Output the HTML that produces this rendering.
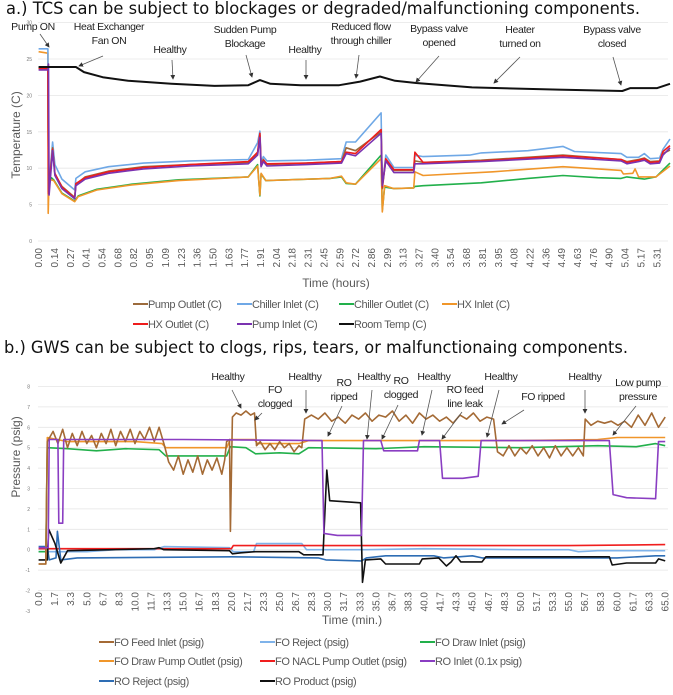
<!DOCTYPE html>
<html><head><meta charset="utf-8">
<style>
html,body{margin:0;padding:0;background:#fff;}
svg{display:block;}
.ann{font-family:"Liberation Sans Narrow","Liberation Sans",sans-serif;font-size:10.5px;letter-spacing:-0.35px;fill:#222;text-anchor:middle;}
.tick{font-family:"Liberation Sans",sans-serif;font-size:10px;fill:#595959;}
.ytick{font-family:"Liberation Sans",sans-serif;font-size:5px;fill:#777;text-anchor:end;}
.leg{font-family:"Liberation Sans Narrow","Liberation Sans",sans-serif;font-size:11px;letter-spacing:-0.4px;fill:#595959;}
.axt{font-family:"Liberation Sans",sans-serif;font-size:12px;fill:#595959;text-anchor:middle;}
.title{font-family:"DejaVu Sans",sans-serif;font-size:17px;fill:#111;}
</style></head>
<body>
<svg id="root" width="673" height="695" viewBox="0 0 673 695" xmlns="http://www.w3.org/2000/svg">
<defs><marker id="ah" markerWidth="6" markerHeight="6" refX="5" refY="3" orient="auto"><path d="M0,0 L6,3 L0,6 z" fill="#333"/></marker></defs>
<text class="title" x="6" y="14" textLength="634" lengthAdjust="spacingAndGlyphs">a.) TCS can be subject to blockages or degraded/malfunctioning components.</text>
<text class="title" x="4" y="353" textLength="624" lengthAdjust="spacingAndGlyphs">b.) GWS can be subject to clogs, rips, tears, or malfunctionaing components.</text>
<g id="gA"></g>
<g id="gB"></g>
</svg>
<script>
// ---------- Chart A data (hours, °C) ----------
const aYTicks=[0,5,10,15,20,25,30];
const aXTicks=["0.00","0.14","0.27","0.41","0.54","0.68","0.82","0.95","1.09","1.23","1.36","1.50","1.63","1.77","1.91","2.04","2.18","2.31","2.45","2.59","2.72","2.86","2.99","3.13","3.27","3.40","3.54","3.68","3.81","3.95","4.08","4.22","4.36","4.49","4.63","4.76","4.90","5.04","5.17","5.31"];
const roomTemp=[[0,23.9],[0.32,23.9],[0.39,23.2],[0.55,22.5],[0.77,22.0],[1.14,21.6],[1.51,21.3],[1.8,21.4],[1.9,22.1],[1.99,21.6],[2.25,21.4],[2.58,21.4],[2.76,21.9],[2.93,22.6],[3.06,22.0],[3.24,21.7],[3.72,21.1],[4.46,20.8],[5.01,20.6],[5.08,21.0],[5.31,21.0],[5.42,21.6]];
const chillerInlet=[[0,26.4],[0.08,26.4],[0.085,7],[0.12,13.6],[0.14,10.5],[0.2,8.5],[0.31,7],[0.32,8.6],[0.4,9.5],[0.6,10.2],[0.9,10.7],[1.3,11],[1.8,11.2],[1.88,13.5],[1.9,15.1],[1.91,10.8],[1.93,11.6],[1.96,11],[2.3,11.1],[2.6,11.3],[2.64,13.6],[2.72,13.6],[2.94,17.6],[2.95,7.5],[2.98,11.8],[3.05,10.1],[3.22,10.1],[3.23,11.8],[3.3,11.6],[3.7,11.8],[3.8,12.1],[4.2,12.4],[4.5,13],[4.6,12.3],[5.0,12],[5.05,11.5],[5.15,11.5],[5.2,12],[5.25,11.3],[5.33,11.4],[5.36,12.6],[5.42,14]];
const pumpOutlet=[[0,23.8],[0.08,23.8],[0.085,6.8],[0.12,12.8],[0.14,9.2],[0.2,7.5],[0.31,6.0],[0.32,7.8],[0.4,8.8],[0.6,9.6],[0.9,10.2],[1.3,10.5],[1.8,10.8],[1.88,12],[1.9,14.5],[1.91,10.5],[1.93,11.2],[1.96,10.5],[2.3,10.7],[2.6,10.9],[2.64,12.8],[2.72,12.4],[2.94,15],[2.95,7.2],[2.98,11.2],[3.05,9.7],[3.22,9.7],[3.23,11],[3.3,10.8],[3.8,11.1],[4.5,11.8],[5.0,11.2],[5.05,10.9],[5.15,11.2],[5.2,11.4],[5.25,10.9],[5.33,11],[5.36,12],[5.42,12.5]];
const hxOutlet=[[0,23.7],[0.08,23.7],[0.085,6.5],[0.12,12.6],[0.14,9.3],[0.2,7.4],[0.31,5.9],[0.32,7.9],[0.4,8.7],[0.6,9.5],[0.9,10.1],[1.3,10.5],[1.8,10.9],[1.88,12.2],[1.9,14.8],[1.91,10.3],[1.93,11.1],[1.96,10.6],[2.3,10.7],[2.6,10.9],[2.64,12.2],[2.72,12.0],[2.94,15.3],[2.95,7.4],[2.98,11.3],[3.05,9.8],[3.22,9.8],[3.23,12.2],[3.3,10.8],[3.8,11.0],[4.5,11.7],[5.0,11.2],[5.05,10.8],[5.15,11.1],[5.2,11.3],[5.25,10.8],[5.33,10.9],[5.36,12.3],[5.42,13.1]];
const pumpInlet=[[0,23.5],[0.08,23.5],[0.085,24.3],[0.09,6.3],[0.12,12.4],[0.14,9.0],[0.2,7.2],[0.31,5.8],[0.32,7.6],[0.4,8.5],[0.6,9.3],[0.9,9.9],[1.3,10.3],[1.8,10.6],[1.88,11.8],[1.9,14.2],[1.91,10.2],[1.93,10.9],[1.96,10.3],[2.3,10.5],[2.6,10.7],[2.64,12.0],[2.72,11.7],[2.94,14.8],[2.95,7.6],[2.98,11.0],[3.05,9.4],[3.22,9.4],[3.23,10.6],[3.3,10.6],[3.8,10.9],[4.5,11.5],[5.0,11.0],[5.05,10.6],[5.15,10.9],[5.2,11.1],[5.25,10.6],[5.33,10.7],[5.36,11.8],[5.42,12.8]];
const hxInlet=[[0,26],[0.08,25.8],[0.082,3.8],[0.09,8.5],[0.13,8.3],[0.2,6.5],[0.31,5.4],[0.34,6.1],[0.5,7],[0.8,7.7],[1.2,8.3],[1.8,8.8],[1.88,10.3],[1.9,6.3],[1.91,9.3],[1.95,8.3],[2.5,8.6],[2.6,8.9],[2.64,8.0],[2.72,7.8],[2.94,11.3],[2.95,4.0],[2.97,7.6],[3.05,7.2],[3.22,7.3],[3.23,9.5],[3.3,9],[3.9,9.5],[4.5,10.2],[4.9,9.8],[5.0,9.7],[5.02,9.2],[5.1,9.3],[5.12,9.9],[5.15,8.8],[5.3,8.8],[5.42,10.3]];
const chillerOutlet=[[0,23.7],[0.08,23.7],[0.085,7.5],[0.11,8.7],[0.13,8.4],[0.2,6.6],[0.31,5.5],[0.34,6.2],[0.5,7.1],[0.8,7.8],[1.2,8.4],[1.8,8.8],[1.88,10.5],[1.9,6.2],[1.91,9.2],[1.95,8.3],[2.5,8.6],[2.6,8.8],[2.64,7.9],[2.72,7.8],[2.94,11.8],[2.95,4.2],[2.97,7.4],[3.05,7.2],[3.22,7.3],[3.23,7.5],[3.3,7.6],[3.8,8.0],[4.2,8.6],[4.5,9.0],[4.8,8.7],[5.0,8.6],[5.05,8.8],[5.2,8.5],[5.3,8.8],[5.42,10.7]];

// ---------- Chart B data (minutes, psig) ----------
const bYTicks=[-3,-2,-1,0,1,2,3,4,5,6,7,8];
const bXTicks=["0.0","1.7","3.3","5.0","6.7","8.3","10.0","11.7","13.3","15.0","16.7","18.3","20.0","21.7","23.3","25.0","26.7","28.3","30.0","31.7","33.3","35.0","36.7","38.3","40.0","41.7","43.3","45.0","46.7","48.3","50.0","51.7","53.3","55.0","56.7","58.3","60.0","61.7","63.3","65.0"];
const foFeed=[[0,-0.7],[0.75,-0.7],[0.9,5.3],[1.5,5.8],[2,5.2],[2.5,5.9],[3,5.0],[3.5,5.7],[4,5.1],[4.5,5.8],[5,5.2],[5.5,5.6],[6,5.0],[6.5,5.7],[7,5.2],[7.5,5.9],[8,5.1],[8.5,5.8],[9,5.3],[9.5,5.9],[10,5.2],[10.5,5.8],[11,5.4],[11.5,6.0],[12,5.3],[12.5,6.0],[13,5.2],[13.5,4.3],[14,3.9],[14.5,4.6],[15,3.7],[15.5,4.4],[16,3.8],[16.5,4.6],[17,3.7],[17.5,4.4],[18,3.9],[18.5,4.5],[19,3.7],[19.3,4.4],[19.5,5.3],[19.8,5.4],[19.9,0.9],[20.1,6.5],[20.5,6.7],[21,6.6],[21.5,6.8],[22,6.6],[22.4,6.7],[22.6,5.1],[23,5.3],[23.5,4.9],[24,5.2],[24.5,4.9],[25,5.3],[25.5,5.0],[26,5.2],[26.5,4.8],[27,5.1],[27.3,5.0],[27.6,6.4],[28.3,6.6],[29,6.4],[29.7,6.7],[30.4,6.3],[31.1,6.5],[31.8,6.2],[32.5,6.6],[33.2,6.4],[33.9,6.7],[34.6,6.3],[35.3,6.6],[36,6.5],[36.7,6.8],[37.4,6.3],[38.1,6.6],[38.8,6.2],[39.5,6.7],[40.2,6.4],[40.9,6.6],[41.6,6.3],[42.3,6.5],[43,6.2],[43.7,6.6],[44.4,6.4],[45.1,6.7],[45.8,6.3],[46.5,6.5],[47.2,6.4],[47.6,4.8],[48.2,4.6],[48.8,5.1],[49.4,4.6],[50,5.0],[50.6,4.7],[51.2,5.1],[51.8,4.6],[52.4,5.0],[53,4.5],[53.6,5.1],[54.2,4.6],[54.8,5.0],[55.4,4.6],[56,5.0],[56.5,4.6],[56.7,6.4],[57.3,6.1],[58,6.3],[58.7,6.2],[59.4,6.3],[60.1,6.1],[60.8,6.3],[61.5,6.0],[62.2,6.6],[62.9,6.1],[63.6,6.7],[64.3,6.0],[65,6.5]];
const foReject=[[0,-0.1],[0.8,-0.1],[1.5,-0.1],[5,-0.1],[8,0.0],[12,0.0],[13,0.15],[19.8,0.1],[20.2,-0.1],[22.3,-0.1],[22.6,0.3],[27.3,0.3],[27.8,0.0],[34,0.0],[40,0.05],[50,0.0],[55,0.0],[56,-0.1],[58,-0.05],[65,-0.05]];
const foDrawInlet=[[0,-0.1],[0.75,-0.1],[0.9,5.0],[3,4.95],[6,4.85],[9,4.95],[12.5,4.9],[13.2,4.6],[16,4.6],[19.5,4.6],[19.9,5.05],[21.5,5.0],[22.5,4.7],[25,4.75],[27,4.7],[28,5.0],[35,4.95],[40,5.05],[50,5.0],[58,5.1],[62,5.05],[64,5.2],[65,5.1]];
const foDrawPump=[[0,-0.7],[0.75,-0.7],[0.9,5.5],[3,5.3],[6,5.3],[10,5.3],[12.8,5.2],[13.2,5.0],[19.5,5.0],[19.9,5.4],[22.4,5.4],[22.7,5.2],[27,5.2],[28,5.35],[40,5.35],[50,5.35],[58,5.4],[60,5.5],[65,5.5]];
const foNacl=[[0,0.05],[20,0.05],[20.2,0.2],[40,0.2],[55,0.2],[65,0.25]];
const roInlet=[[0,0.1],[1.0,0.1],[1.1,5.4],[2.0,5.4],[2.1,1.3],[2.5,1.3],[2.6,5.4],[15,5.4],[29.4,5.35],[29.6,0.8],[31,0.7],[33.5,0.7],[33.7,5.35],[35.5,5.35],[35.8,4.85],[39.3,4.85],[39.5,5.35],[41.6,5.35],[41.9,3.5],[44,3.5],[45.6,3.6],[45.9,5.35],[59.2,5.35],[59.6,2.7],[61,2.55],[64,2.5],[64.3,5.3],[65,5.3]];
const roReject=[[0,0.15],[0.9,0.15],[1.1,-0.5],[1.8,-0.4],[1.95,0.9],[2.3,-0.5],[4,-0.4],[20,-0.35],[29,-0.4],[29.8,-0.5],[33.5,-0.55],[34,-0.4],[36,-0.3],[41,-0.3],[42,-0.4],[45,-0.3],[46,-0.4],[50,-0.4],[60,-0.4],[64,-0.3],[65,-0.3]];
const roProduct=[[0,-0.5],[0.9,-0.5],[1.05,1.0],[1.7,0.3],[2.3,-0.65],[3,-0.05],[12,0.05],[12.5,0.1],[13,0.0],[19.8,-0.05],[20.1,-0.2],[21,-0.15],[22.5,-0.1],[27,-0.1],[27.5,-0.25],[29.5,-0.25],[29.9,3.9],[30.2,2.4],[33.4,2.3],[33.6,-1.6],[33.9,-0.5],[35.5,-0.45],[36,-0.7],[39.5,-0.7],[39.8,-0.45],[41.5,-0.4],[42.3,-0.8],[42.8,-0.6],[43.3,-0.3],[43.8,-0.6],[46,-0.6],[46.4,-0.35],[59.2,-0.35],[59.5,-0.75],[61,-0.65],[64,-0.65],[64.3,-0.45],[65,-0.55]];

// ---------- scales ----------
function xA(h){return 38.6+h*116.5;}
function yA(v){return 241-v*7.28;}
function xB(m){return 38.6+m*9.64;}
function yB(v){return 549.7-v*20.4;}
const NS="http://www.w3.org/2000/svg";
function mk(tag,parent,attrs){const e=document.createElementNS(NS,tag);for(const k in attrs)e.setAttribute(k,attrs[k]);parent.appendChild(e);return e;}
const gA=document.getElementById('gA'), gB=document.getElementById('gB');

aYTicks.forEach(v=>{
  const l=mk('line',gA,{x1:38,x2:668,y1:yA(v),y2:yA(v),stroke:'#e6e6e6','stroke-width':0.8});
  
  
  const t=mk('text',gA,{x:32,y:yA(v)+2,class:'ytick'});t.textContent=v;
  
  
});
aXTicks.forEach((s,i)=>{
  const x=38.6+i*15.85;
  const t=mk('text',gA,{x:x+3.5,y:248,class:'tick','text-anchor':'end',transform:`rotate(-90 ${x+3.5} 248)`});t.textContent=s;
  
  
});
bYTicks.forEach(v=>{
  if(v>=-2){const l=mk('line',gB,{x1:38,x2:668,y1:yB(v),y2:yB(v),stroke:'#e6e6e6','stroke-width':0.8});
  
  }
  const t=mk('text',gB,{x:30,y:yB(v)+2,class:'ytick'});t.textContent=v;
  
  
});
bXTicks.forEach((s,i)=>{
  const x=38.6+i*16.06;
  const t=mk('text',gB,{x:x+3.5,y:592,class:'tick','text-anchor':'end',transform:`rotate(-90 ${x+3.5} 592)`});t.textContent=s;
  
  
});

function line(g,data,fx,fy,color,name,w){
  const p=mk('polyline',g,{points:data.map(d=>fx(d[0]).toFixed(1)+','+fy(d[1]).toFixed(1)).join(' '),fill:'none',stroke:color,'stroke-width':w||1.6,'stroke-linejoin':'round'});
  
  
}
line(gA,chillerOutlet,xA,yA,'#22b04b','chiller-outlet-line');
line(gA,hxInlet,xA,yA,'#f0962a','hx-inlet-line');
line(gA,chillerInlet,xA,yA,'#6fa8e6','chiller-inlet-line');
line(gA,pumpOutlet,xA,yA,'#9c6b3c','pump-outlet-line');
line(gA,hxOutlet,xA,yA,'#ee1c1c','hx-outlet-line');
line(gA,pumpInlet,xA,yA,'#7b32b0','pump-inlet-line');
line(gA,roomTemp,xA,yA,'#111','room-temp-line',2);

line(gB,foReject,xB,yB,'#7fb3ea','fo-reject-line');
line(gB,foNacl,xB,yB,'#f01e1e','fo-nacl-pump-outlet-line');
line(gB,roReject,xB,yB,'#2e6db4','ro-reject-line');
line(gB,roProduct,xB,yB,'#111','ro-product-line');
line(gB,foDrawInlet,xB,yB,'#22b04b','fo-draw-inlet-line');
line(gB,foDrawPump,xB,yB,'#f0962a','fo-draw-pump-outlet-line');
line(gB,foFeed,xB,yB,'#a46a35','fo-feed-inlet-line');
line(gB,roInlet,xB,yB,'#8a3ec2','ro-inlet-line');

const annA=[[["Pump ON"],33,30,[40,34,49,47]],[["Heat Exchanger","Fan ON"],109,30,[103,56,79,66]],[["Healthy"],170,53,[172,60,173,79]],[["Sudden Pump","Blockage"],245,33,[246,55,252,77]],[["Healthy"],305,53,[306,60,306,79]],[["Reduced flow","through chiller"],361,30,[359,55,356,78]],[["Bypass valve","opened"],439,32,[439,56,416,82]],[["Heater","turned on"],520,33,[520,57,494,83]],[["Bypass valve","closed"],612,33,[613,57,621,85]]];
const annB=[[["Healthy"],228,380,[232,390,241,408]],[["FO","clogged"],275,393,[262,413,255,420]],[["Healthy"],305,380,[306,390,306,413]],[["RO","ripped"],344,386,[342,406,328,436]],[["Healthy"],374,380,[372,390,367,439]],[["RO","clogged"],401,384,[398,405,382,439]],[["Healthy"],434,380,[432,390,422,435]],[["RO feed","line leak"],465,393,[462,412,442,439]],[["Healthy"],501,380,[499,390,487,437]],[["FO ripped"],543,400,[524,410,502,424]],[["Healthy"],585,380,[585,390,585,413]],[["Low pump","pressure"],638,386,[636,406,613,435]]];
function ann(g,list){
  list.forEach(a=>{
    const t=mk('text',g,{x:a[1],y:a[2],class:'ann'});
    
    
    a[0].forEach((s,i)=>{const ts=mk('tspan',t,{x:a[1],dy:i?14:0});ts.textContent=s;});
    const r=a[3];
    const l=mk('line',g,{x1:r[0],y1:r[1],x2:r[2],y2:r[3],stroke:'#555','stroke-width':0.8,'marker-end':'url(#ah)'});
    
    
  });
}
ann(gA,annA);ann(gB,annB);

let t=mk('text',gA,{x:336,y:287,class:'axt'});t.textContent='Time (hours)';


t=mk('text',gA,{x:20,y:135,class:'axt',transform:'rotate(-90 20 135)'});t.textContent='Temperature (C)';


t=mk('text',gB,{x:352,y:624,class:'axt'});t.textContent='Time (min.)';


t=mk('text',gB,{x:20,y:457,class:'axt',transform:'rotate(-90 20 457)'});t.textContent='Pressure (psig)';



const legA=[["Pump Outlet (C)",'#9c6b3c',133,308],["Chiller Inlet (C)",'#6fa8e6',237,308],["Chiller Outlet (C)",'#22b04b',339,308],["HX Inlet (C)",'#f0962a',442,308],["HX Outlet (C)",'#ee1c1c',133,328],["Pump Inlet (C)",'#7b32b0',237,328],["Room Temp (C)",'#111',339,328]];
const legB=[["FO Feed Inlet (psig)",'#a46a35',99,646],["FO Reject (psig)",'#7fb3ea',260,646],["FO Draw Inlet (psig)",'#22b04b',420,646],["FO Draw Pump Outlet (psig)",'#f0962a',99,665],["FO NACL Pump Outlet (psig)",'#f01e1e',260,665],["RO Inlet (0.1x psig)",'#8a3ec2',420,665],["RO Reject (psig)",'#2e6db4',99,685],["RO Product (psig)",'#111',260,685]];
function legend(g,list){
  list.forEach(e=>{
    const l=mk('line',g,{x1:e[2],x2:e[2]+15,y1:e[3]-4,y2:e[3]-4,stroke:e[1],'stroke-width':2});
    
    
    const tt=mk('text',g,{x:e[2]+15,y:e[3],class:'leg'});tt.textContent=e[0];
    
    
  });
}
legend(gA,legA);legend(gB,legB);
</script>
</body></html>
